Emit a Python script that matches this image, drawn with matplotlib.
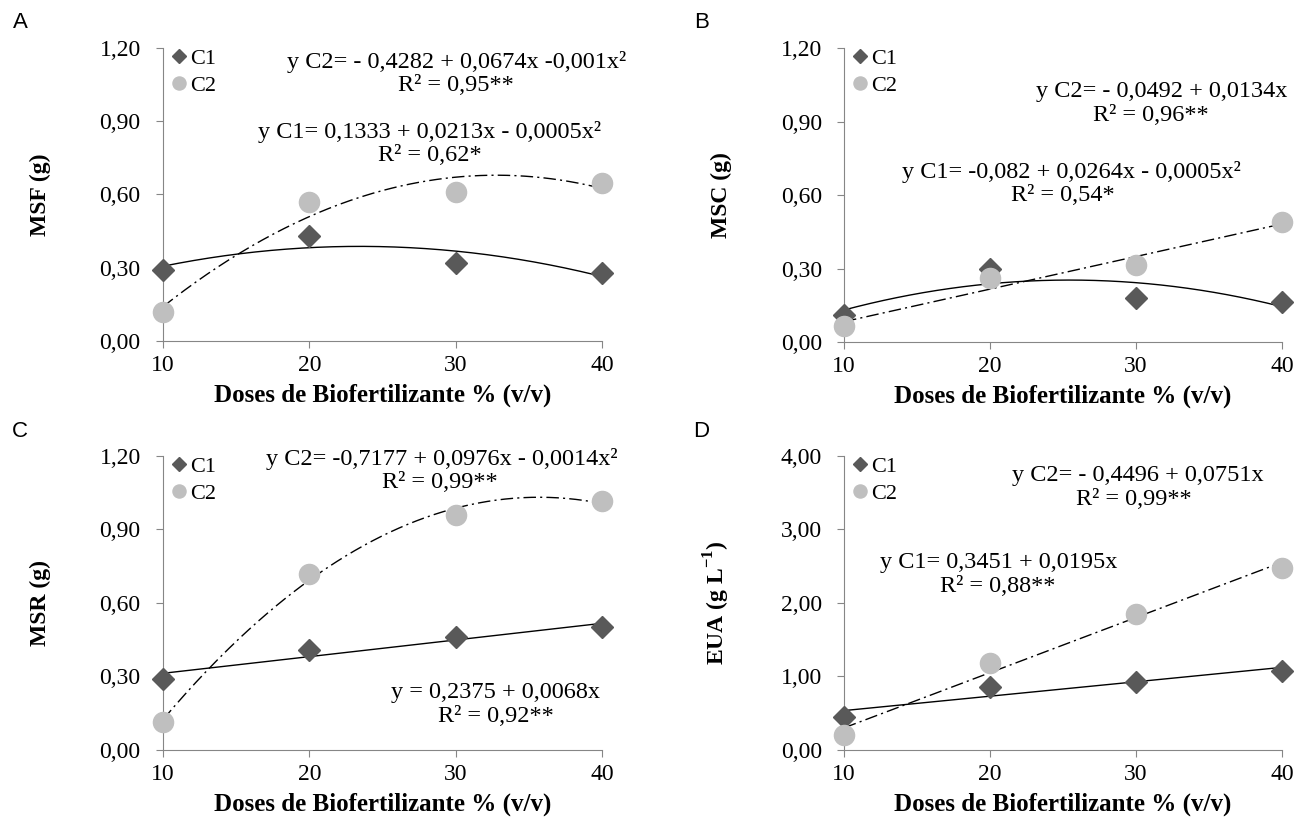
import matplotlib
matplotlib.use("Agg")
import matplotlib.pyplot as plt
import numpy as np

plt.rcParams['mathtext.fontset'] = 'custom'
plt.rcParams['mathtext.rm'] = 'Liberation Serif'
plt.rcParams['mathtext.bf'] = 'Liberation Serif:bold'

# doses (x) e valores
doses = [10, 20, 30, 40]

msf_c1 = [0.29, 0.43, 0.32, 0.28]
msf_c2 = [0.12, 0.57, 0.61, 0.645]

msc_c1 = [0.11, 0.30, 0.18, 0.165]
msc_c2 = [0.065, 0.26, 0.315, 0.49]

msr_c1 = [0.29, 0.41, 0.46, 0.50]
msr_c2 = [0.115, 0.72, 0.96, 1.015]

eua_c1 = [0.45, 0.86, 0.93, 1.08]
eua_c2 = [0.20, 1.18, 1.85, 2.48]

xlabel = "Doses de Biofertilizante % (v/v)"
serif = "Liberation Serif"

C1_COL = "#595959"
C2_COL = "#bfbfbf"
AX_COL = "#868686"


def painel(ax, c1, c2, grau1, grau2, ymax, ystep, ylab, eqs):
    x = np.array(doses)
    xs = np.linspace(10, 40, 200)
    # linhas de tendencia (ajuste polinomial, como no Excel)
    p1 = np.polyfit(x, c1, grau1)
    p2 = np.polyfit(x, c2, grau2)
    ax.plot(xs, np.polyval(p1, xs), color="black", lw=1.0, zorder=2)
    ax.plot(xs, np.polyval(p2, xs), color="black", lw=1.0,
            dashes=(9, 3, 1.5, 3), zorder=2)
    ax.plot(x, c1, "D", color=C1_COL, ms=11, mec=C1_COL, label="C1",
            zorder=3, clip_on=False)
    ax.plot(x, c2, "o", color=C2_COL, ms=14.5, mec=C2_COL, label="C2",
            zorder=3, clip_on=False)

    ax.set_xlim(10, 40)
    ax.set_ylim(0, ymax)
    ax.set_xticks(doses)
    ax.set_xticklabels([str(d) for d in doses], fontfamily=serif, fontsize=17)
    yt = np.arange(0, ymax + 1e-9, ystep)
    ax.set_yticks(yt)
    ax.set_yticklabels([("%.2f" % v).replace(".", ",") for v in yt],
                       fontfamily=serif, fontsize=17)
    for s in ["top", "right"]:
        ax.spines[s].set_visible(False)
    for s in ["left", "bottom"]:
        ax.spines[s].set_color(AX_COL)
    ax.tick_params(colors=AX_COL, length=5, labelcolor="black")
    ax.tick_params(axis="y", pad=11)
    ax.tick_params(axis="x", pad=5)
    ax.set_xlabel(xlabel, fontfamily=serif, fontsize=18, fontweight="bold")
    ax.xaxis.set_label_coords(0.5, -0.145)
    ax.set_ylabel(ylab, fontfamily=serif, fontsize=17, fontweight="bold")
    ax.yaxis.set_label_coords(-0.255, 0.5)

    ax.legend(loc="upper left", bbox_to_anchor=(0.018, 1.0), frameon=False,
              handlelength=0.7, handletextpad=0.15, labelspacing=0.3,
              borderaxespad=0, borderpad=0, prop={"family": serif, "size": 16},
              markerscale=0.65)

    for (tx, ty, txt) in eqs:
        ax.text(tx, ty, txt, transform=ax.transAxes, ha="center", va="center",
                fontfamily=serif, fontsize=17.5, clip_on=False)


fig = plt.figure(figsize=(13.11, 8.21), dpi=100)

axA = fig.add_axes([0.1243, 0.5847, 0.3349, 0.3569])
axB = fig.add_axes([0.6438, 0.5834, 0.3341, 0.3581])
axC = fig.add_axes([0.1243, 0.0865, 0.3349, 0.3581])
axD = fig.add_axes([0.6438, 0.0865, 0.3341, 0.3581])

painel(axA, msf_c1, msf_c2, 2, 2, 1.2, 0.3, "MSF (g)",
       [(0.668, 0.952, "y C2= - 0,4282 + 0,0674x -0,001x²"),
        (0.667, 0.873, "R² = 0,95**"),
        (0.608, 0.712, "y C1= 0,1333 + 0,0213x - 0,0005x²"),
        (0.608, 0.632, "R² = 0,62*")])

painel(axB, msc_c1, msc_c2, 2, 1, 1.2, 0.3, "MSC (g)",
       [(0.726, 0.852, "y C2= - 0,0492 + 0,0134x"),
        (0.70, 0.772, "R² = 0,96**"),
        (0.52, 0.58, "y C1= -0,082 + 0,0264x - 0,0005x²"),
        (0.50, 0.50, "R² = 0,54*")])

painel(axC, msr_c1, msr_c2, 1, 2, 1.2, 0.3, "MSR (g)",
       [(0.635, 0.99, "y C2= -0,7177 + 0,0976x - 0,0014x²"),
        (0.63, 0.91, "R² = 0,99**"),
        (0.758, 0.196, "y = 0,2375 + 0,0068x"),
        (0.759, 0.114, "R² = 0,92**")])

painel(axD, eua_c1, eua_c2, 1, 1, 4.0, 1.0, r"EUA (g L$^{\mathbf{-1}}$)",
       [(0.671, 0.933, "y C2= - 0,4496 + 0,0751x"),
        (0.662, 0.853, "R² = 0,99**"),
        (0.352, 0.638, "y C1= 0,3451 + 0,0195x"),
        (0.35, 0.556, "R² = 0,88**")])

# letras dos paineis
for letra, (fx, fy) in zip("ABCD", [(0.0153, 0.972), (0.535, 0.972),
                                    (0.0153, 0.474), (0.535, 0.474)]):
    fig.text(fx, fy, letra, fontsize=16, fontfamily="Liberation Sans",
             ha="center", va="center")

fig.savefig("out.png", dpi=100)
